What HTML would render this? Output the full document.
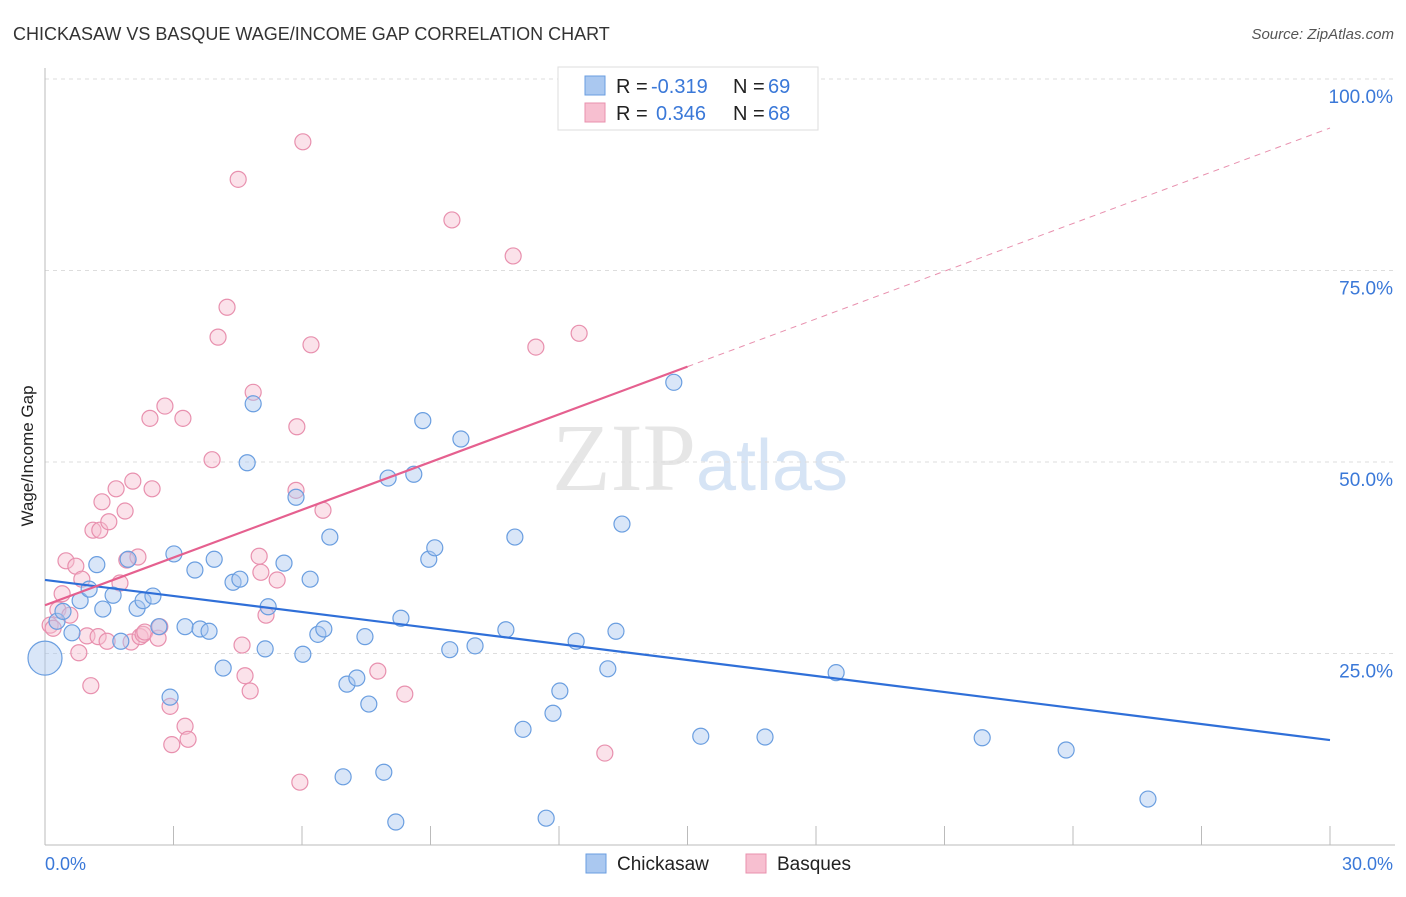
<!DOCTYPE html>
<html><head><meta charset="utf-8"><style>
body{margin:0;background:#fff;font-family:"Liberation Sans",sans-serif;}
</style></head><body>
<svg id="chart" width="1406" height="892" xmlns="http://www.w3.org/2000/svg" font-family="Liberation Sans, sans-serif">
<text x="13" y="40" font-size="18" fill="#333">CHICKASAW VS BASQUE WAGE/INCOME GAP CORRELATION CHART</text>
<text x="1394" y="39" font-size="15" fill="#555" font-style="italic" text-anchor="end">Source: ZipAtlas.com</text>
<text x="700" y="490" font-size="96" text-anchor="middle" fill="#e6e6e6" font-family="Liberation Serif, serif">ZIP<tspan fill="#d6e4f5" font-family="Liberation Sans, sans-serif" font-size="72">atlas</tspan></text>
<text transform="translate(33,456) rotate(-90)" font-size="17" fill="#222" text-anchor="middle">Wage/Income Gap</text>
<g id="grid"></g><g id="axes"></g><g id="marks"></g><g id="trends"></g>
<g>
<rect x="558" y="67" width="260" height="63" fill="#fff" stroke="#ddd"/>
<rect x="585" y="76" width="20" height="19" fill="#aac8f0" stroke="#6a9ee0"/>
<rect x="585" y="103" width="20" height="19" fill="#f7bfd0" stroke="#e890ae"/>
<text x="616" y="93" font-size="20" fill="#222">R = <tspan x="651" fill="#3a78d8">-0.319</tspan></text>
<text x="733" y="93" font-size="20" fill="#222">N = <tspan x="768" fill="#3a78d8">69</tspan></text>
<text x="616" y="120" font-size="20" fill="#222">R = <tspan x="656" fill="#3a78d8">0.346</tspan></text>
<text x="733" y="120" font-size="20" fill="#222">N = <tspan x="768" fill="#3a78d8">68</tspan></text>
</g>
<g>
<rect x="586" y="854" width="20" height="19" fill="#aac8f0" stroke="#6a9ee0"/>
<text x="617" y="870" font-size="19" fill="#222">Chickasaw</text>
<rect x="746" y="854" width="20" height="19" fill="#f7bfd0" stroke="#e890ae"/>
<text x="777" y="870" font-size="19" fill="#222">Basques</text>
</g>
</svg>
<script>
const blueX=[0,0.28,0.63,0.42,0.82,1.03,1.21,1.35,1.59,1.77,1.94,2.15,2.29,2.52,2.66,2.92,3.01,3.27,3.50,3.62,3.83,3.95,4.16,4.39,4.55,4.72,4.86,5.14,5.21,5.58,5.86,6.02,6.19,6.37,6.51,6.65,6.96,7.05,7.28,7.47,7.56,7.91,8.01,8.19,8.31,8.61,8.82,8.96,9.10,9.45,9.71,10.04,10.76,10.97,11.16,11.70,11.86,12.02,12.40,13.14,13.33,13.47,14.68,15.31,16.81,18.47,21.88,23.84,25.75];
const blueY=[24.4,29.2,27.7,30.5,31.9,33.4,36.6,30.8,32.6,26.6,37.3,30.9,31.9,32.5,28.5,19.3,38.0,28.5,35.9,28.2,27.9,37.3,23.1,34.3,34.7,49.9,57.6,25.6,31.1,36.8,45.4,24.9,34.7,27.5,28.2,40.2,8.9,21.0,21.8,27.2,18.4,9.5,47.9,3.0,29.6,48.4,55.4,37.3,38.8,25.5,53.0,26.0,28.1,40.2,15.1,3.5,17.2,20.1,26.6,23.0,27.9,41.9,60.4,14.2,14.1,22.5,14.0,12.4,6.0];
const pinkX=[0.12,0.19,0.30,0.40,0.49,0.58,0.72,0.79,0.86,0.98,1.07,1.12,1.24,1.28,1.33,1.45,1.49,1.66,1.75,1.87,1.91,2.01,2.05,2.17,2.22,2.29,2.33,2.45,2.50,2.64,2.68,2.80,2.92,2.96,3.22,3.27,3.34,3.90,4.04,4.25,4.51,4.60,4.67,4.79,4.86,5.00,5.04,5.16,5.42,5.88,5.86,5.95,6.02,6.21,6.49,7.77,8.40,9.50,10.93,11.46,12.47,13.07];
const pinkY=[28.7,28.3,30.7,32.8,37.1,30.0,36.4,25.1,34.7,27.3,20.8,41.1,27.2,41.1,44.8,26.6,42.2,46.5,34.2,43.6,37.2,26.5,47.5,37.6,27.2,27.5,27.8,55.7,46.5,27.0,28.5,57.3,18.1,13.1,55.7,15.5,13.8,50.3,66.3,70.2,86.9,26.1,22.1,20.1,59.1,37.7,35.6,30.0,34.6,54.6,46.3,8.2,91.8,65.3,43.7,22.7,19.7,81.6,76.9,65.0,66.8,12.0];
const blueTrend=[34.6,13.7];
const pinkTrend=[31.3,93.6];
const yTicks=[25,50,75,100];
const xTickLabels=["0.0%","30.0%"];

const NS="http://www.w3.org/2000/svg";
const X0=45,X1=1330,Y0=845,PPY=7.66;
const sx=v=>X0+v/30*(X1-X0);
const sy=v=>Y0-v*PPY;
function mk(tag,attrs,parent){const e=document.createElementNS(NS,tag);for(const k in attrs)e.setAttribute(k,attrs[k]);document.getElementById(parent).appendChild(e);return e;}

yTicks.forEach(t=>{
  const l=mk('line',{x1:X0,x2:1395,y1:sy(t),y2:sy(t),stroke:'#ddd','stroke-dasharray':'4,4'},'grid');
  
  
  const tx=mk('text',{x:1393,y:sy(t)+24,'font-size':19,fill:'#3a78d8','text-anchor':'end'},'grid');
  tx.textContent=t.toFixed(1)+'%';
  
  
});
const ya=mk('line',{x1:X0,x2:X0,y1:68,y2:Y0,stroke:'#bbb'},'axes');


const xa=mk('line',{x1:X0,x2:1395,y1:Y0,y2:Y0,stroke:'#bbb'},'axes');


for(let i=0;i<=10;i++){
  const t=mk('line',{x1:sx(i*3),x2:sx(i*3),y1:826,y2:Y0,stroke:'#bbb'},'axes');
  
  
}
const xl0=mk('text',{x:45,y:870,'font-size':18,fill:'#3a78d8'},'axes');xl0.textContent=xTickLabels[0];


const xl1=mk('text',{x:1393,y:870,'font-size':18,fill:'#3a78d8','text-anchor':'end'},'axes');xl1.textContent=xTickLabels[1];



function pts(xs,ys,fill,stroke,name){
  xs.forEach((x,i)=>{
    const r=(i===0&&name==='chickasaw-point')?17:8;
    const c=mk('circle',{cx:sx(x),cy:sy(ys[i]),r:r,fill:fill,'fill-opacity':0.45,stroke:stroke,'stroke-width':1.2},'marks');
    
    
  });
}
pts(pinkX,pinkY,'#f7bfd0','#e890ae','basques-point');
pts(blueX,blueY,'#aac8f0','#6a9ee0','chickasaw-point');

const bl=mk('line',{x1:sx(0),y1:sy(blueTrend[0]),x2:sx(30),y2:sy(blueTrend[1]),stroke:'#2f6fd8','stroke-width':2.2},'trends');


const pm=pinkTrend[0]+(pinkTrend[1]-pinkTrend[0])*0.5;
const pl=mk('line',{x1:sx(0),y1:sy(pinkTrend[0]),x2:sx(15),y2:sy(pm),stroke:'#e5608f','stroke-width':2.2},'trends');


const pd=mk('line',{x1:sx(15),y1:sy(pm),x2:sx(30),y2:sy(pinkTrend[1]),stroke:'#e890ae','stroke-width':1,'stroke-dasharray':'6,5'},'trends');


</script>
</body></html>
